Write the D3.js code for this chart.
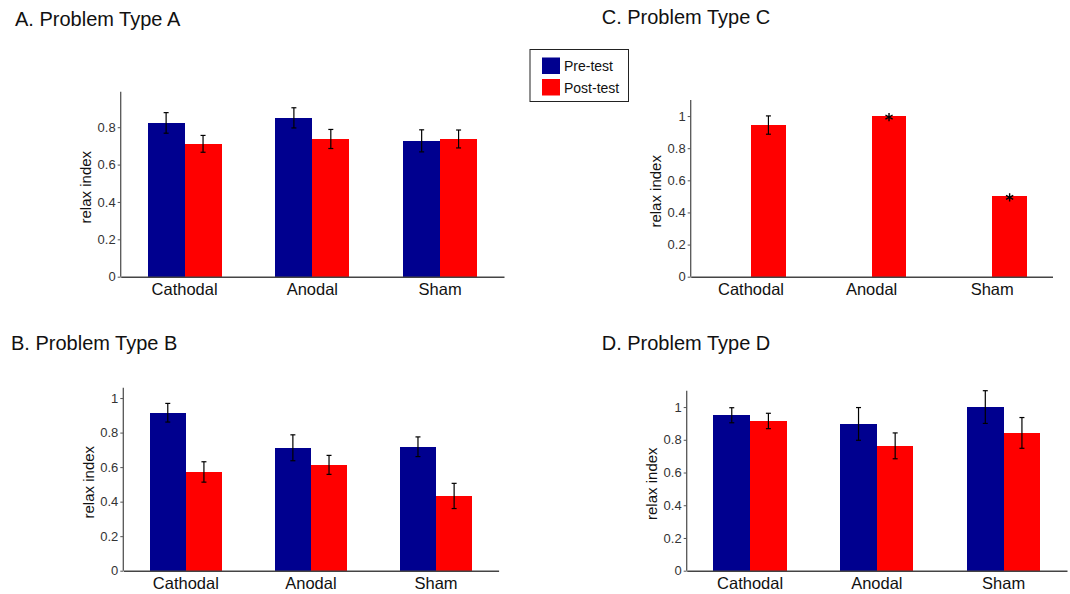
<!DOCTYPE html>
<html>
<head>
<meta charset="utf-8">
<script src="https://cdn.jsdelivr.net/npm/d3@7"></script>
<style>
  body { margin: 0; background: #fff; }
  text { font-family: "Liberation Sans", Arial, sans-serif; }
</style>
</head>
<body>
<div id="graph"></div>
<script>
// data
var categories = ["Cathodal", "Anodal", "Sham"];
var seriesNames = ["Pre-test", "Post-test"];
var colors = ["#00008f", "#ff0000"];

var preA = [0.823, 0.850, 0.727], preAErr = [0.055, 0.054, 0.059];
var postA = [0.711, 0.737, 0.737], postAErr = [0.045, 0.051, 0.048];

var preB = [0.915, 0.712, 0.718], preBErr = [0.054, 0.075, 0.057];
var postB = [0.572, 0.613, 0.433], postBErr = [0.059, 0.055, 0.073];

var preC = [0, 0, 0], preCErr = [0, 0, 0];
var postC = [0.944, 1.0, 0.5], postCErr = [0.057, 0, 0];
var starredC = ["Anodal", "Sham"]; // marked with * in panel C

var preD = [0.950, 0.897, 1.0], preDErr = [0.046, 0.1, 0.1];
var postD = [0.915, 0.763, 0.842], postDErr = [0.047, 0.079, 0.094];

var ticksA = [0, 0.2, 0.4, 0.6, 0.8];
var ticksBCD = [0, 0.2, 0.4, 0.6, 0.8, 1];

var svg = d3.select("#graph")
            .append("svg")
            .attr("width", 1070).attr("height", 594);

// panel boxes (axis area in pixels)
var panels = [
  {title: "A. Problem Type A", tx: 15, ty: 26, l: 120.7, r: 504, t: 91.7, b: 276.7,
   ymax: 0.99, ticks: ticksA, pre: preA, preErr: preAErr, post: postA, postErr: postAErr},
  {title: "B. Problem Type B", tx: 11, ty: 349.5, l: 123.3, r: 498.6, t: 387.7, b: 570.7,
   ymax: 1.06, ticks: ticksBCD, pre: preB, preErr: preBErr, post: postB, postErr: postBErr},
  {title: "C. Problem Type C", tx: 601.7, ty: 23.5, l: 690.7, r: 1052.5, t: 100, b: 276.7,
   ymax: 1.1, ticks: ticksBCD, pre: preC, preErr: preCErr, post: postC, postErr: postCErr, stars: starredC},
  {title: "D. Problem Type D", tx: 601.7, ty: 349.5, l: 686.7, r: 1067, t: 390.7, b: 570.7,
   ymax: 1.1, ticks: ticksBCD, pre: preD, preErr: preDErr, post: postD, postErr: postDErr}
];

var barFrac = 0.289;

panels.forEach(function(p) {
  var g = svg.append("g");

  g.append("text")
    .attr("x", p.tx).attr("y", p.ty)
    .attr("font-size", 20).attr("fill", "#111")
    .text(p.title);

  var x0 = d3.scaleBand().domain(categories).range([p.l, p.r]).padding(0);
  var bw = x0.bandwidth();
  var barW = bw * barFrac;
  var x1 = d3.scaleBand().domain(seriesNames).range([bw / 2 - barW, bw / 2 + barW]).padding(0);
  var y = d3.scaleLinear().domain([0, p.ymax]).range([p.b, p.t]);

  var rows = [];
  categories.forEach(function(c, i) {
    if (p.pre[i] > 0) rows.push({cat: c, s: seriesNames[0], v: p.pre[i], e: p.preErr[i], col: colors[0]});
    rows.push({cat: c, s: seriesNames[1], v: p.post[i], e: p.postErr[i], col: colors[1]});
  });

  g.selectAll("rect.bar")
    .data(rows)
    .enter()
    .append("rect")
    .attr("class", "bar")
    .attr("x", function(d) { return x0(d.cat) + x1(d.s); })
    .attr("y", function(d) { return y(d.v); })
    .attr("width", x1.bandwidth())
    .attr("height", function(d) { return y(0) - y(d.v); })
    .attr("fill", function(d) { return d.col; })
    .attr("shape-rendering", "crispEdges");

  // error bars
  var eb = g.selectAll("g.err")
    .data(rows.filter(function(d) { return d.e > 0; }))
    .enter()
    .append("g")
    .attr("stroke", "#000").attr("stroke-width", 1.2);
  var cx = function(d) { return x0(d.cat) + x1(d.s) + x1.bandwidth() / 2; };
  eb.append("line")
    .attr("x1", cx).attr("x2", cx)
    .attr("y1", function(d) { return y(d.v + d.e); })
    .attr("y2", function(d) { return y(d.v - d.e); });
  [1, -1].forEach(function(sgn) {
    eb.append("line")
      .attr("x1", function(d) { return cx(d) - 2.5; })
      .attr("x2", function(d) { return cx(d) + 2.5; })
      .attr("y1", function(d) { return y(d.v + sgn * d.e); })
      .attr("y2", function(d) { return y(d.v + sgn * d.e); });
  });

  // asterisks
  if (p.stars) {
    g.selectAll("path.star")
      .data(rows.filter(function(d) { return d.s === seriesNames[1] && p.stars.indexOf(d.cat) >= 0; }))
      .enter()
      .append("path")
      .attr("d", d3.symbol().type(d3.symbolAsterisk).size(48))
      .attr("transform", function(d) { return "translate(" + cx(d) + "," + (y(d.v) + 1) + ")"; })
      .attr("fill", "none").attr("stroke", "#000").attr("stroke-width", 1.4);
  }

  // axes
  var yAxis = d3.axisLeft(y).tickValues(p.ticks).tickSize(3).tickPadding(2)
    .tickFormat(function(d) { return d === 0 ? "0" : d3.format("~g")(d); });
  var ya = g.append("g")
    .attr("transform", "translate(" + p.l + ",0)")
    .call(yAxis);
  ya.select(".domain").attr("d", "M0," + p.t + "V" + p.b).attr("stroke", "#555").attr("stroke-width", 1.3);
  ya.selectAll(".tick line").attr("stroke", "#555");
  ya.selectAll(".tick text").attr("font-size", 13).attr("fill", "#333")
    .attr("font-family", "Liberation Sans, Arial, sans-serif");

  var xAxis = d3.axisBottom(x0).tickSize(0).tickPadding(7);
  var xa = g.append("g")
    .attr("transform", "translate(0," + p.b + ")")
    .call(xAxis);
  xa.select(".domain").attr("stroke", "#444").attr("stroke-width", 1.5);
  xa.selectAll(".tick text").attr("font-size", 16.5).attr("fill", "#111")
    .attr("font-family", "Liberation Sans, Arial, sans-serif");

  g.append("text")
    .attr("transform", "translate(" + (p.l - 35) + "," + ((p.t + p.b) / 2 + 3) + ") rotate(-90)")
    .attr("text-anchor", "middle")
    .attr("dominant-baseline", "central")
    .attr("font-size", 15).attr("fill", "#111")
    .text("relax index");
});

// legend
var legend = svg.append("g");
legend.append("rect")
  .attr("x", 530).attr("y", 49.5).attr("width", 98.5).attr("height", 52)
  .attr("fill", "#fff").attr("stroke", "#222").attr("stroke-width", 1);
seriesNames.forEach(function(s, i) {
  legend.append("rect")
    .attr("x", 542).attr("y", 57.5 + i * 21.5).attr("width", 18).attr("height", 16.5)
    .attr("fill", colors[i]);
  legend.append("text")
    .attr("x", 564).attr("y", 66 + i * 21.5)
    .attr("dominant-baseline", "central")
    .attr("font-size", 14).attr("fill", "#111")
    .text(s);
});
</script>
</body>
</html>
